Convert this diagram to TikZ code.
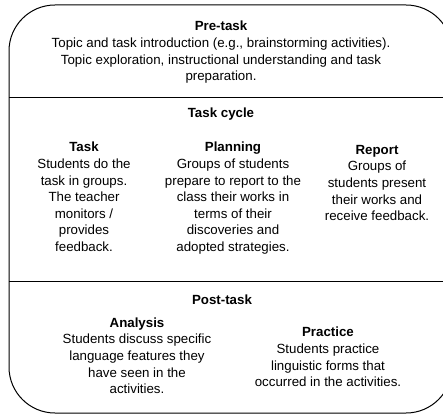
\documentclass[tikz,border=0pt]{standalone}
\usepackage{fontspec}
\setmainfont{Liberation Sans}
\usetikzlibrary{positioning}

\begin{document}
\begin{tikzpicture}[x=1pt,y=-1pt,
  block/.style={align=center,inner sep=0pt,anchor=north,font=\fontsize{13.3}{16.6}\selectfont},
  frame/.style={line width=1pt}]
 \useasboundingbox (0,0) rectangle (443,417);
 % outer box, runs off the right edge
 \begin{scope}
  \clip (0,0) rectangle (443,417);
  \draw[frame,rounded corners=46pt] (9,5) rectangle (452,413);
  \draw[frame] (9,97) -- (452,97);
  \draw[frame] (9,281) -- (452,281);
 \end{scope}
 % pre-task
 \node[block] (pretask) at (221,21) {{\bfseries Pre-task}\\
  Topic and task introduction (e.g., brainstorming activities).\\
  Topic exploration, instructional understanding and task\\
  preparation.};
 % task cycle
 \node[block] (cycle) at (221,108) {\bfseries Task cycle};
 \node[block] (task) at (84,142) {{\bfseries Task}\\Students do the\\task in groups.\\The teacher\\monitors /\\provides\\feedback.};
 \node[block] (planning) at (233,142) {{\bfseries Planning}\\Groups of students\\prepare to report to the\\class their works in\\terms of their\\discoveries and\\adopted strategies.};
 \node[block] (report) at (377,145) {{\bfseries Report}\\Groups of\\students present\\their works and\\receive feedback.};
 % post-task
 \node[block] (posttask) at (222,295) {\bfseries Post-task};
 \node[block] (analysis) at (137,317.5) {{\bfseries Analysis}\\Students discuss specific\\language features they\\have seen in the\\activities.};
 \node[block] (practice) at (328,327) {{\bfseries Practice}\\Students practice\\linguistic forms that\\occurred in the activities.};
\end{tikzpicture}
\end{document}
